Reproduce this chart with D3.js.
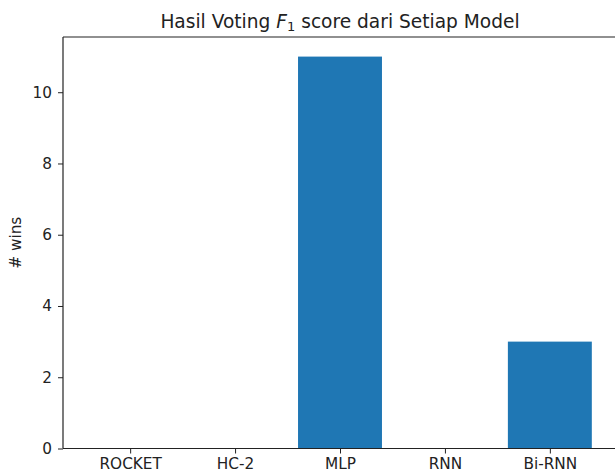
<!DOCTYPE html>
<html>
<head>
<meta charset="utf-8">
<script src="https://cdn.jsdelivr.net/npm/d3@7"></script>
<style>
  html, body { margin: 0; padding: 0; background: #fff; overflow: hidden; }
  svg { display: block; font-family: "DejaVu Sans", sans-serif; }
</style>
</head>
<body>
<svg id="chart" width="615" height="476"></svg>
<script>
const categories = ["ROCKET", "HC-2", "MLP", "RNN", "Bi-RNN"];
const wins = [0, 0, 11, 0, 3];
const yTicks = [0, 2, 4, 6, 8, 10];
const titleText = ["Hasil Voting ", "F", "1", " score dari Setiap Model"];
const yLabel = "# wins";

const svg = d3.select("#chart");
const mLeft = 63, mTop = 37, mBottom = 448.5;
const mRight = 617;

// matplotlib-like x limits: bars of width 0.8 with 5% margins
const x = d3.scaleLinear().domain([-0.64, 4.64]).range([mLeft, mRight]);
const y = d3.scaleLinear().domain([0, 11.55]).range([mBottom, mTop]);
const barW = 0.8;

svg.append("g").selectAll("rect")
  .data(categories.map((c, i) => ({c, i, v: wins[i]})).filter(d => d.v > 0))
  .join("rect")
  .attr("x", d => x(d.i - barW / 2))
  .attr("width", d => x(d.i + barW / 2) - x(d.i - barW / 2))
  .attr("y", d => y(d.v))
  .attr("height", d => y(0) - y(d.v))
  .attr("fill", "#1f77b4");

// axes
const xAxis = d3.axisBottom(x)
  .tickValues(categories.map((c, i) => i))
  .tickFormat(i => categories[i])
  .tickSize(5).tickPadding(5);
const gx = svg.append("g").attr("transform", `translate(0,${mBottom})`).call(xAxis);
gx.select(".domain").remove();
gx.selectAll("text").attr("font-size", 15.3).attr("fill", "#222").attr("font-family", "DejaVu Sans");
gx.selectAll("line").attr("stroke", "#222");

const yAxis = d3.axisLeft(y).tickValues(yTicks).tickSize(5).tickPadding(6);
const gy = svg.append("g").attr("transform", `translate(${mLeft},0)`).call(yAxis);
gy.select(".domain").remove();
gy.selectAll("text").attr("font-size", 15.3).attr("fill", "#222").attr("font-family", "DejaVu Sans");
gy.selectAll("line").attr("stroke", "#222");

// spines: left, top, bottom (right one falls outside view)
const spines = svg.append("g").attr("stroke", "#222").attr("stroke-width", 1.2).attr("fill", "none");
spines.append("line").attr("x1", mLeft).attr("x2", mLeft).attr("y1", mTop).attr("y2", mBottom);
spines.append("line").attr("x1", mLeft).attr("x2", 615).attr("y1", mTop).attr("y2", mTop);
spines.append("line").attr("x1", mLeft).attr("x2", 615).attr("y1", mBottom).attr("y2", mBottom);

// title
const t = svg.append("text")
  .attr("x", (mLeft + mRight) / 2).attr("y", 28)
  .attr("text-anchor", "middle")
  .attr("font-size", 18.6).attr("fill", "#222");
t.append("tspan").text(titleText[0]);
t.append("tspan").attr("font-style", "italic").text(titleText[1]);
t.append("tspan").attr("font-size", 13).attr("dy", 3).text(titleText[2]);
t.append("tspan").attr("dy", -3).text(titleText[3]);

// y label
svg.append("text")
  .attr("transform", `translate(21,${(mTop + mBottom) / 2}) rotate(-90)`)
  .attr("text-anchor", "middle")
  .attr("font-size", 15.3).attr("fill", "#222")
  .text(yLabel);
</script>
</body>
</html>
